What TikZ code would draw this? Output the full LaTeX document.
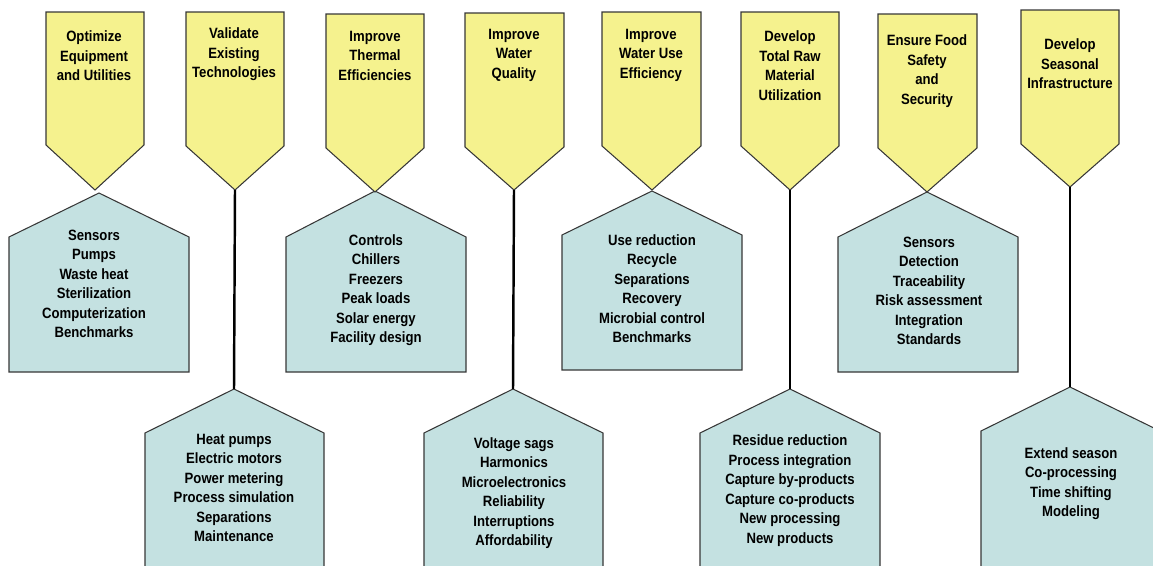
\documentclass[tikz,border=0pt]{standalone}
\usepackage{fontspec}
\setmainfont{Liberation Sans}[FakeStretch=0.88]
\definecolor{flagyellow}{RGB}{245,242,142}
\definecolor{houseblue}{RGB}{196,225,225}
\definecolor{edgegray}{RGB}{55,55,55}
\begin{document}
\begin{tikzpicture}[x=0.02cm,y=-0.02cm,
  txt/.style={align=center,inner sep=0pt,anchor=north,font=\fontsize{8.5}{11.1}\selectfont\bfseries},
  flag/.style={fill=flagyellow,draw=edgegray,line width=0.6pt,line join=miter},
  house/.style={fill=houseblue,draw=edgegray,line width=0.6pt},
  link/.style={line width=1.4pt}]
  \useasboundingbox (0,0) rectangle (1153,565);
  \clip (0,0) rectangle (1153,565);
  % draw upper houses
  \draw[house] (9,372) -- (9,237) -- (99,193) coordinate(roof1) -- (189,237) -- (189,372) -- cycle;
  \draw[house] (286,372) -- (286,237) -- (375,191) coordinate(roof3) -- (466,237) -- (466,372) -- cycle;
  \draw[house] (562,370) -- (562,235) -- (652,191) coordinate(roof5) -- (742,235) -- (742,370) -- cycle;
  \draw[house] (838,372) -- (838,237) -- (927,192) coordinate(roof7) -- (1018,237) -- (1018,372) -- cycle;
  % draw lower houses
  \draw[house] (145,580) -- (145,433) -- (234,389) coordinate(roof2) -- (324,433) -- (324,580) -- cycle;
  \draw[house] (424,580) -- (424,433) -- (513,389) coordinate(roof4) -- (603,433) -- (603,580) -- cycle;
  \draw[house] (700,580) -- (700,433) -- (790,389) coordinate(roof6) -- (880,433) -- (880,580) -- cycle;
  \draw[house] (981,580) -- (981,431) -- (1070,387) coordinate(roof8) -- (1160,431) -- (1160,580) -- cycle;
  % draw flags
  \draw[flag] (46,12) -- (144,12) -- (144,145) -- (95,190) coordinate(tip1) -- (46,145) -- cycle;
  \draw[flag] (186,12) -- (284,12) -- (284,146) -- (235,190) coordinate(tip2) -- (186,146) -- cycle;
  \draw[flag] (326,14) -- (424,14) -- (424,148) -- (375,192) coordinate(tip3) -- (326,148) -- cycle;
  \draw[flag] (465,13) -- (564,13) -- (564,147) -- (514,190) coordinate(tip4) -- (465,147) -- cycle;
  \draw[flag] (602,12) -- (701,12) -- (701,146) -- (652,190) coordinate(tip5) -- (602,146) -- cycle;
  \draw[flag] (741,12) -- (839,12) -- (839,146) -- (790,190) coordinate(tip6) -- (741,146) -- cycle;
  \draw[flag] (878,14) -- (977,14) -- (977,148) -- (927,192) coordinate(tip7) -- (878,148) -- cycle;
  \draw[flag] (1021,10) -- (1119,10) -- (1119,144) -- (1070,187) coordinate(tip8) -- (1021,144) -- cycle;
  % draw links from flags to lower houses
  \draw[link] (tip2) -- (roof2);
  \draw[link] (tip4) -- (roof4);
  \draw[link] (tip6) -- (roof6);
  \draw[link] (tip8) -- (roof8);
  % draw flag texts
  \node at(94,30.6)[txt](optimize){Optimize\\Equipment\\and Utilities};
  \node at(234,27.6)[txt](validate){Validate\\Existing\\Technologies};
  \node at(375,30.6)[txt](thermal){Improve\\Thermal\\Efficiencies};
  \node at(514,28.6)[txt](quality){Improve\\Water\\Quality};
  \node at(651,28.6)[txt](wateruse){Improve\\Water Use\\Efficiency};
  \node at(790,30.6)[txt](rawmat){Develop\\Total Raw\\Material\\Utilization};
  \node at(927,34.6)[txt](foodsafe){Ensure Food\\Safety\\and\\Security};
  \node at(1070,38.6)[txt](seasonal){Develop\\Seasonal\\Infrastructure};
  % draw house texts
  \node at(94,229.6)[txt](optimizelist){Sensors\\Pumps\\Waste heat\\Sterilization\\Computerization\\Benchmarks};
  \node at(234,433.6)[txt](validatelist){Heat pumps\\Electric motors\\Power metering\\Process simulation\\Separations\\Maintenance};
  \node at(376,233.9)[txt](thermallist){Controls\\Chillers\\Freezers\\Peak loads\\Solar energy\\Facility design};
  \node at(514,437.3)[txt](qualitylist){Voltage sags\\Harmonics\\Microelectronics\\Reliability\\Interruptions\\Affordability};
  \node at(652,233.9)[txt](wateruselist){Use reduction\\Recycle\\Separations\\Recovery\\Microbial control\\Benchmarks};
  \node at(790,434.6)[txt](rawmatlist){Residue reduction\\Process integration\\Capture by-products\\Capture co-products\\New processing\\New products};
  \node at(929,236.3)[txt](foodsafelist){Sensors\\Detection\\Traceability\\Risk assessment\\Integration\\Standards};
  \node at(1071,447.3)[txt](seasonallist){Extend season\\Co-processing\\Time shifting\\Modeling};
\end{tikzpicture}
\end{document}
